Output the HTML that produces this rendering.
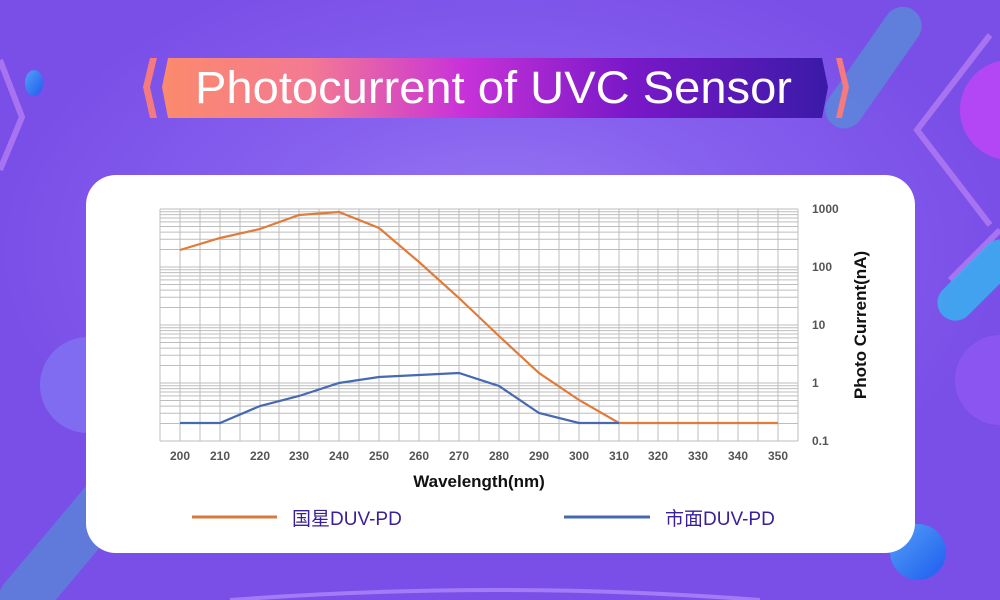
<!DOCTYPE html>
<html><head><meta charset="utf-8"><style>
html,body{margin:0;padding:0;width:1000px;height:600px;overflow:hidden}
body{position:relative;font-family:"Liberation Sans","Noto Sans CJK SC",sans-serif;
background:radial-gradient(ellipse 500px 300px at 500px 250px,#9a7cf5 0%,#8660ee 50%,#7a4fe8 100%);}
.abs{position:absolute;display:block}
</style></head><body>
<svg class="abs" style="left:0;top:0;overflow:hidden" width="1000" height="600">
  <defs>
    <linearGradient id="tg" x1="0" x2="1"><stop offset="0" stop-color="#fb8a6c"/><stop offset="0.22" stop-color="#f47a92"/><stop offset="0.45" stop-color="#c833d8"/><stop offset="0.7" stop-color="#7a18c8"/><stop offset="1" stop-color="#3a1aa8"/></linearGradient>
    <linearGradient id="bl" x1="0" x2="1" y1="0" y2="1"><stop offset="0" stop-color="#55a0f5"/><stop offset="1" stop-color="#1e5cf0"/></linearGradient>
  </defs>
  <polyline points="0,60 22,117 0,170" fill="none" stroke="#a873f0" stroke-width="6"/>
  <polyline points="990,35 917,130 990,225" fill="none" stroke="#a873f0" stroke-width="6"/>
  <polyline points="1000,230 950,280" fill="none" stroke="#a873f0" stroke-width="6"/>
  <circle cx="1010" cy="110" r="50" fill="#b347f5"/>
  <rect x="860" y="0" width="38" height="140" rx="19" transform="rotate(35 880 60)" fill="#5a8ad8" opacity="0.8"/>
  <rect x="960" y="230" width="36" height="100" rx="18" transform="rotate(45 978 280)" fill="#3ab0f0" opacity="0.85"/>
  <circle cx="88" cy="385" r="48" fill="#7f6cf0"/>
  <rect x="40" y="460" width="50" height="180" rx="25" transform="rotate(40 65 550)" fill="#5a84d8" opacity="0.8"/>
  <ellipse cx="34" cy="83" rx="9" ry="13" fill="url(#bl)"/>
  <circle cx="1000" cy="380" r="45" fill="#8a55f0"/>
  <circle cx="918" cy="552" r="28" fill="url(#bl)"/>
  <path d="M230 600 Q500 580 760 600" fill="none" stroke="#a27bf5" stroke-width="4"/>
  <polygon points="168,58 822,58 828,87 822,118 168,118 162,87" fill="url(#tg)"/>
  <polygon points="150,58 157,58 150,87 157,118 150,118 143,87" fill="#f47a80"/>
  <polygon points="836,58 842,58 849,87 842,118 836,118 843,87" fill="#f47a80"/>
  <text x="195" y="103" textLength="597" lengthAdjust="spacingAndGlyphs" font-family="Liberation Sans, sans-serif" font-size="45" fill="#fff">Photocurrent of UVC Sensor</text>
  <rect x="86" y="175" width="829" height="378" rx="30" fill="#fff"/>
  <g stroke="#bdbdbd" stroke-width="1">
    <g id="dec">
      <line x1="160" x2="798" y1="441" y2="441"/>
      <line x1="160" x2="798" y1="423.5" y2="423.5"/>
      <line x1="160" x2="798" y1="413.3" y2="413.3"/>
      <line x1="160" x2="798" y1="406.1" y2="406.1"/>
      <line x1="160" x2="798" y1="400.5" y2="400.5"/>
      <line x1="160" x2="798" y1="395.9" y2="395.9"/>
      <line x1="160" x2="798" y1="392" y2="392"/>
      <line x1="160" x2="798" y1="388.6" y2="388.6"/>
      <line x1="160" x2="798" y1="385.7" y2="385.7"/>
    </g>
    <use href="#dec" transform="translate(0,-58)"/>
    <use href="#dec" transform="translate(0,-116)"/>
    <use href="#dec" transform="translate(0,-174)"/>
    <line x1="160" x2="798" y1="209" y2="209"/>
  </g>
  <g stroke="#bdbdbd" stroke-width="1">
    <line x1="160" x2="160" y1="209" y2="441"/><line x1="180" x2="180" y1="209" y2="441"/><line x1="200" x2="200" y1="209" y2="441"/><line x1="220" x2="220" y1="209" y2="441"/>
    <line x1="240" x2="240" y1="209" y2="441"/><line x1="260" x2="260" y1="209" y2="441"/><line x1="279" x2="279" y1="209" y2="441"/><line x1="299" x2="299" y1="209" y2="441"/>
    <line x1="319" x2="319" y1="209" y2="441"/><line x1="339" x2="339" y1="209" y2="441"/><line x1="359" x2="359" y1="209" y2="441"/><line x1="379" x2="379" y1="209" y2="441"/>
    <line x1="399" x2="399" y1="209" y2="441"/><line x1="419" x2="419" y1="209" y2="441"/><line x1="439" x2="439" y1="209" y2="441"/><line x1="459" x2="459" y1="209" y2="441"/>
    <line x1="479" x2="479" y1="209" y2="441"/><line x1="499" x2="499" y1="209" y2="441"/><line x1="519" x2="519" y1="209" y2="441"/><line x1="539" x2="539" y1="209" y2="441"/>
    <line x1="559" x2="559" y1="209" y2="441"/><line x1="579" x2="579" y1="209" y2="441"/><line x1="599" x2="599" y1="209" y2="441"/><line x1="619" x2="619" y1="209" y2="441"/>
    <line x1="638" x2="638" y1="209" y2="441"/><line x1="658" x2="658" y1="209" y2="441"/><line x1="678" x2="678" y1="209" y2="441"/><line x1="698" x2="698" y1="209" y2="441"/>
    <line x1="718" x2="718" y1="209" y2="441"/><line x1="738" x2="738" y1="209" y2="441"/><line x1="758" x2="758" y1="209" y2="441"/><line x1="778" x2="778" y1="209" y2="441"/>
    <line x1="798" x2="798" y1="209" y2="441"/>
  </g>
  <polyline fill="none" stroke="#e07b39" stroke-width="2.2" points="180,250 220,238 260,229 299,215 339,212 379,228 419,262 459,298 499,336 539,373 579,400 619,423 778,423"/>
  <polyline fill="none" stroke="#4569b2" stroke-width="2.2" points="180,423 220,423 260,406 299,396 339,383 379,377 419,375 459,373 499,386 539,413 579,423 619,423"/>
  <g font-family="Liberation Sans, sans-serif" font-size="12" font-weight="bold" fill="#555" text-anchor="middle">
    <text x="180" y="460">200</text><text x="220" y="460">210</text><text x="260" y="460">220</text><text x="299" y="460">230</text>
    <text x="339" y="460">240</text><text x="379" y="460">250</text><text x="419" y="460">260</text><text x="459" y="460">270</text>
    <text x="499" y="460">280</text><text x="539" y="460">290</text><text x="579" y="460">300</text><text x="619" y="460">310</text>
    <text x="658" y="460">320</text><text x="698" y="460">330</text><text x="738" y="460">340</text><text x="778" y="460">350</text>
  </g>
  <g font-family="Liberation Sans, sans-serif" font-size="12" font-weight="bold" fill="#555">
    <text x="812" y="213">1000</text><text x="812" y="271">100</text><text x="812" y="329">10</text><text x="812" y="387">1</text><text x="812" y="445">0.1</text>
  </g>
  <text x="479" y="487" text-anchor="middle" font-family="Liberation Sans, sans-serif" font-size="17" font-weight="bold" fill="#111">Wavelength(nm)</text>
  <text transform="translate(866,325) rotate(-90)" text-anchor="middle" font-family="Liberation Sans, sans-serif" font-size="17" font-weight="bold" fill="#111">Photo Current(nA)</text>
  <line x1="192" x2="277" y1="517" y2="517" stroke="#d87a3c" stroke-width="3"/>
  <text x="292" y="525" font-family="Liberation Sans, Noto Sans CJK SC, sans-serif" font-size="19" fill="#3a1f9a">国星DUV-PD</text>
  <line x1="564" x2="650" y1="517" y2="517" stroke="#4569b2" stroke-width="3"/>
  <text x="665" y="525" font-family="Liberation Sans, Noto Sans CJK SC, sans-serif" font-size="19" fill="#3a1f9a">市面DUV-PD</text>
</svg>
</body></html>
